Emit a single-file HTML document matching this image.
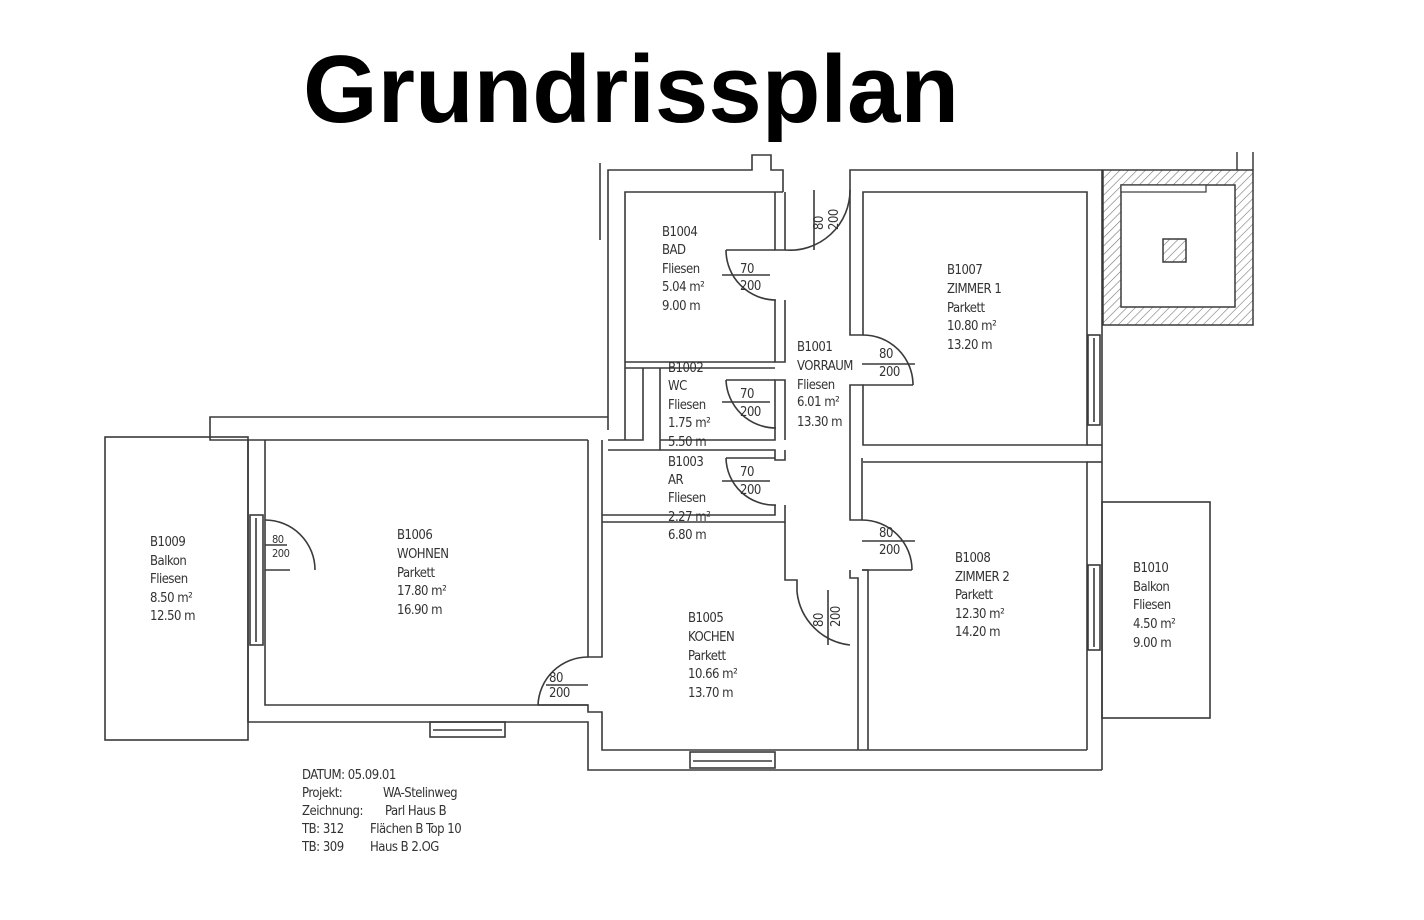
<!DOCTYPE html>
<html><head><meta charset="utf-8"><style>
html,body{margin:0;padding:0;background:#fff;width:1424px;height:920px;overflow:hidden}
svg{position:absolute;left:0;top:0}
.t{font-family:"DejaVu Sans Condensed","Liberation Sans Narrow","Liberation Sans",sans-serif;font-size:13px;fill:#333;letter-spacing:-0.5px}
.s{font-size:11px}
</style></head><body>
<svg width="1424" height="920" viewBox="0 0 1424 920">
<defs>
<pattern id="h" width="6" height="6" patternUnits="userSpaceOnUse" patternTransform="rotate(45)">
<line x1="0" y1="0" x2="0" y2="6" stroke="#777" stroke-width="1.2"/></pattern>
</defs>
<text x="631" y="122" text-anchor="middle" font-family="Liberation Sans,sans-serif" font-weight="bold" font-size="96" fill="#000">Grundrissplan</text>
<g fill="none" stroke="#3a3a3a" stroke-width="1.6">
<polyline points="608,430 608,170 752,170 752,155 771,155 771,170 783,170 783,192"/>
<polyline points="625,440 625,192 783,192"/>
<line x1="600" y1="163" x2="600" y2="240"/>
<polyline points="775,192 775,250 785,250 785,192"/>
<polyline points="775,300 775,362 785,362 785,300"/>
<line x1="625" y1="362" x2="775" y2="362"/>
<line x1="625" y1="368" x2="775" y2="368"/>
<polyline points="643,368 643,440 608,440"/>
<polyline points="660,368 660,450 608,450"/>
<polyline points="660,440 775,440 775,380 785,380 785,440"/>
<polyline points="660,450 775,450 775,460 785,460 785,450"/>
<polyline points="775,505 775,515 602,515"/>
<polyline points="785,505 785,522 602,522"/>
<polyline points="850,192 850,170 1102,170 1102,770"/>
<polyline points="850,192 850,335 863,335 863,192 1087,192 1087,445 863,445 863,385 850,385 850,458"/>
<polyline points="863,462 1087,462 1087,750"/>
<line x1="1087" y1="462" x2="1102" y2="462"/>
<line x1="1087" y1="445" x2="1102" y2="445"/>
<polyline points="785,522 785,580 797,580 797,592"/>
<polyline points="850,458 850,520 862,520 862,458"/>
<polyline points="850,570 850,578 858,578 858,750"/>
<polyline points="862,570 868,570 868,750"/>
<polyline points="608,417 210,417 210,440 588,440"/>
<polyline points="248,440 248,722 588,722 588,770 1102,770"/>
<polyline points="265,440 265,705 588,705 588,712 602,712 602,750 1087,750"/>
<polyline points="588,440 588,657 602,657 602,440"/>
<rect x="105" y="437" width="143" height="303"/>
<rect x="1102" y="502" width="108" height="216"/>
<rect x="250" y="515" width="13" height="130"/>
<line x1="256" y1="518" x2="256" y2="642"/>
<rect x="430" y="722" width="75" height="15"/>
<line x1="433" y1="730" x2="502" y2="730"/>
<rect x="690" y="752" width="85" height="16"/>
<line x1="693" y1="761" x2="772" y2="761"/>
<rect x="1088" y="335" width="12" height="90"/>
<line x1="1094" y1="338" x2="1094" y2="422"/>
<rect x="1088" y="565" width="12" height="85"/>
<line x1="1094" y1="568" x2="1094" y2="647"/>
<path d="M726,250 A50,50 0 0 0 776,300"/><line x1="726" y1="250" x2="775" y2="250"/><line x1="722" y1="275" x2="770" y2="275"/>
<path d="M726,380 A50,50 0 0 0 776,428"/><line x1="726" y1="380" x2="775" y2="380"/><line x1="722" y1="402" x2="770" y2="402"/>
<path d="M726,458 A48,48 0 0 0 776,505"/><line x1="726" y1="458" x2="775" y2="458"/><line x1="722" y1="481" x2="770" y2="481"/>
<path d="M850,190 A60,60 0 0 1 785,250"/><line x1="814" y1="190" x2="814" y2="250"/>
<path d="M863,335 A50,50 0 0 1 913,385"/><line x1="863" y1="385" x2="913" y2="385"/><line x1="862" y1="364" x2="915" y2="364"/>
<path d="M862,520 A50,50 0 0 1 912,570"/><line x1="862" y1="570" x2="912" y2="570"/><line x1="862" y1="541" x2="915" y2="541"/>
<path d="M797,592 A60,60 0 0 0 850,645"/><line x1="828" y1="590" x2="828" y2="645"/>
<path d="M588,657 A50,50 0 0 0 538,705"/><line x1="538" y1="705" x2="588" y2="705"/><line x1="546" y1="685" x2="588" y2="685"/>
<path d="M265,520 A50,50 0 0 1 315,570"/><line x1="265" y1="570" x2="290" y2="570"/><line x1="265" y1="545" x2="287" y2="545"/>
</g>
<path d="M1103,170 H1253 V325 H1103 Z M1121,185 V307 H1235 V185 Z" fill="url(#h)" fill-rule="evenodd" stroke="#3a3a3a" stroke-width="1.5"/>
<rect x="1121" y="185" width="85" height="7" fill="#fff" stroke="#3a3a3a" stroke-width="1.2"/>
<line x1="1237" y1="152" x2="1237" y2="170" stroke="#3a3a3a" stroke-width="1.5"/>
<line x1="1253" y1="152" x2="1253" y2="170" stroke="#3a3a3a" stroke-width="1.5"/>
<rect x="1163" y="239" width="23" height="23" fill="url(#h)" stroke="#3a3a3a" stroke-width="1.5"/>
<g class="t">
<text x="662" y="236">B1004</text><text x="662" y="254">BAD</text><text x="662" y="273">Fliesen</text><text x="662" y="291">5.04 m²</text><text x="662" y="310">9.00 m</text>
<text x="740" y="273">70</text><text x="740" y="290">200</text>
<text x="947" y="274">B1007</text><text x="947" y="293">ZIMMER 1</text><text x="947" y="312">Parkett</text><text x="947" y="330">10.80 m²</text><text x="947" y="349">13.20 m</text>
<text x="668" y="372">B1002</text><text x="668" y="390">WC</text><text x="668" y="409">Fliesen</text><text x="668" y="427">1.75 m²</text><text x="668" y="446">5.50 m</text>
<text x="740" y="398">70</text><text x="740" y="416">200</text>
<text x="797" y="351">B1001</text><text x="797" y="370">VORRAUM</text><text x="797" y="389">Fliesen</text><text x="797" y="406">6.01 m²</text><text x="797" y="426">13.30 m</text>
<text x="879" y="358">80</text><text x="879" y="376">200</text>
<text x="668" y="466">B1003</text><text x="668" y="484">AR</text><text x="668" y="502">Fliesen</text><text x="668" y="521">2.27 m²</text><text x="668" y="539">6.80 m</text>
<text x="740" y="476">70</text><text x="740" y="494">200</text>
<text x="879" y="537">80</text><text x="879" y="554">200</text>
<text x="150" y="546">B1009</text><text x="150" y="565">Balkon</text><text x="150" y="583">Fliesen</text><text x="150" y="602">8.50 m²</text><text x="150" y="620">12.50 m</text>
<text x="397" y="539">B1006</text><text x="397" y="558">WOHNEN</text><text x="397" y="577">Parkett</text><text x="397" y="595">17.80 m²</text><text x="397" y="614">16.90 m</text>
<text x="955" y="562">B1008</text><text x="955" y="581">ZIMMER 2</text><text x="955" y="599">Parkett</text><text x="955" y="618">12.30 m²</text><text x="955" y="636">14.20 m</text>
<text x="1133" y="572">B1010</text><text x="1133" y="591">Balkon</text><text x="1133" y="609">Fliesen</text><text x="1133" y="628">4.50 m²</text><text x="1133" y="647">9.00 m</text>
<text x="688" y="622">B1005</text><text x="688" y="641">KOCHEN</text><text x="688" y="660">Parkett</text><text x="688" y="678">10.66 m²</text><text x="688" y="697">13.70 m</text>
<text x="549" y="682">80</text><text x="549" y="697">200</text>
<text class="s" x="272" y="543">80</text><text class="s" x="272" y="557">200</text>
<text transform="translate(823,627) rotate(-90)">80</text><text transform="translate(840,627) rotate(-90)">200</text>
<text transform="translate(823,230) rotate(-90)">80</text><text transform="translate(838,230) rotate(-90)">200</text>
<text x="302" y="779">DATUM: 05.09.01</text>
<text x="302" y="797">Projekt:</text><text x="383" y="797">WA-Stelinweg</text>
<text x="302" y="815">Zeichnung:</text><text x="385" y="815">Parl Haus B</text>
<text x="302" y="833">TB: 312</text><text x="370" y="833">Flächen B Top 10</text>
<text x="302" y="851">TB: 309</text><text x="370" y="851">Haus B 2.OG</text>
</g>
</svg>
</body></html>
